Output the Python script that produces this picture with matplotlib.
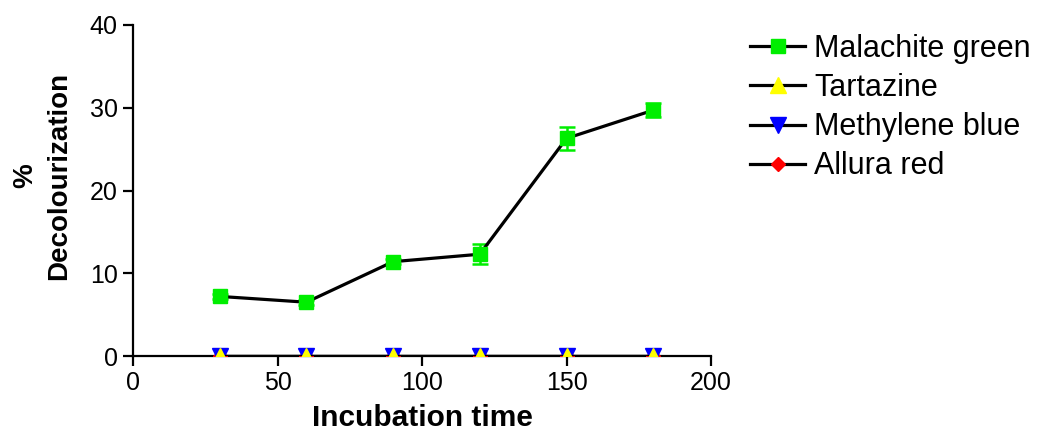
import numpy as np
import matplotlib
matplotlib.use('Agg')
import matplotlib.pyplot as plt

plt.rcParams['font.family'] = ['Liberation Sans', 'DejaVu Sans']

# incubation time points
times = [30, 60, 90, 120, 150, 180]

# % decolourization per dye
malachite = [7.2, 6.5, 11.4, 12.3, 26.3, 29.7]
malachite_err = [0.3, 0.3, 0.3, 1.2, 1.4, 0.85]
tartazine = [0, 0, 0, 0, 0, 0]
methylene = [0, 0, 0, 0, 0, 0]
allura = [0, 0, 0, 0, 0, 0]

fig = plt.figure(figsize=(10.39, 4.32), dpi=100)
ax = fig.add_axes([133/1039, 1-356/432, (711-133)/1039, (356-25)/432])

ax.errorbar(times, malachite, yerr=malachite_err, fmt='none', ecolor='#00ee00',
            elinewidth=1.8, capsize=6, capthick=1.8, zorder=3)
ax.plot(times, malachite, color='black', lw=2.3, marker='s', ms=10,
        mfc='#00ee00', mec='#00ee00', label='Malachite green', zorder=4)
ax.plot(times, allura, color='black', lw=2.3, marker='D', ms=7.5,
        mfc='red', mec='red', label='Allura red', zorder=4)
ax.plot(times, methylene, color='black', lw=2.3, marker='v', ms=11,
        mfc='blue', mec='blue', label='Methylene blue', zorder=4)
ax.plot(times, tartazine, color='black', lw=2.3, marker='^', ms=11,
        mfc='yellow', mec='yellow', label='Tartazine', zorder=5)

ax.set_xlim(0, 200)
ax.set_ylim(0, 40)
ax.set_xticks([0, 50, 100, 150, 200])
ax.set_yticks([0, 10, 20, 30, 40])
ax.spines['top'].set_visible(False)
ax.spines['right'].set_visible(False)
ax.spines['left'].set_linewidth(1.6)
ax.spines['bottom'].set_linewidth(1.6)
ax.tick_params(direction='out', length=7, width=1.6, labelsize=18, pad=4)
ax.set_xlabel('Incubation time', fontsize=21.5, fontweight='bold', labelpad=6)
fig.text(42/1039, 1-176/432, '%\nDecolourization', rotation=90, ha='center',
         va='center', fontsize=20, fontweight='bold', linespacing=1.4)

h, l = ax.get_legend_handles_labels()
order = ['Malachite green', 'Tartazine', 'Methylene blue', 'Allura red']
hd = dict(zip(l, h))
ax.legend([hd[k] for k in order], order, loc='upper left',
          bbox_to_anchor=(750/1039, 1-34/432), bbox_transform=fig.transFigure,
          frameon=False, fontsize=22, handlelength=1.8, handletextpad=0.3,
          labelspacing=0.3, borderaxespad=0, borderpad=0)

fig.savefig('out.png', dpi=100)
